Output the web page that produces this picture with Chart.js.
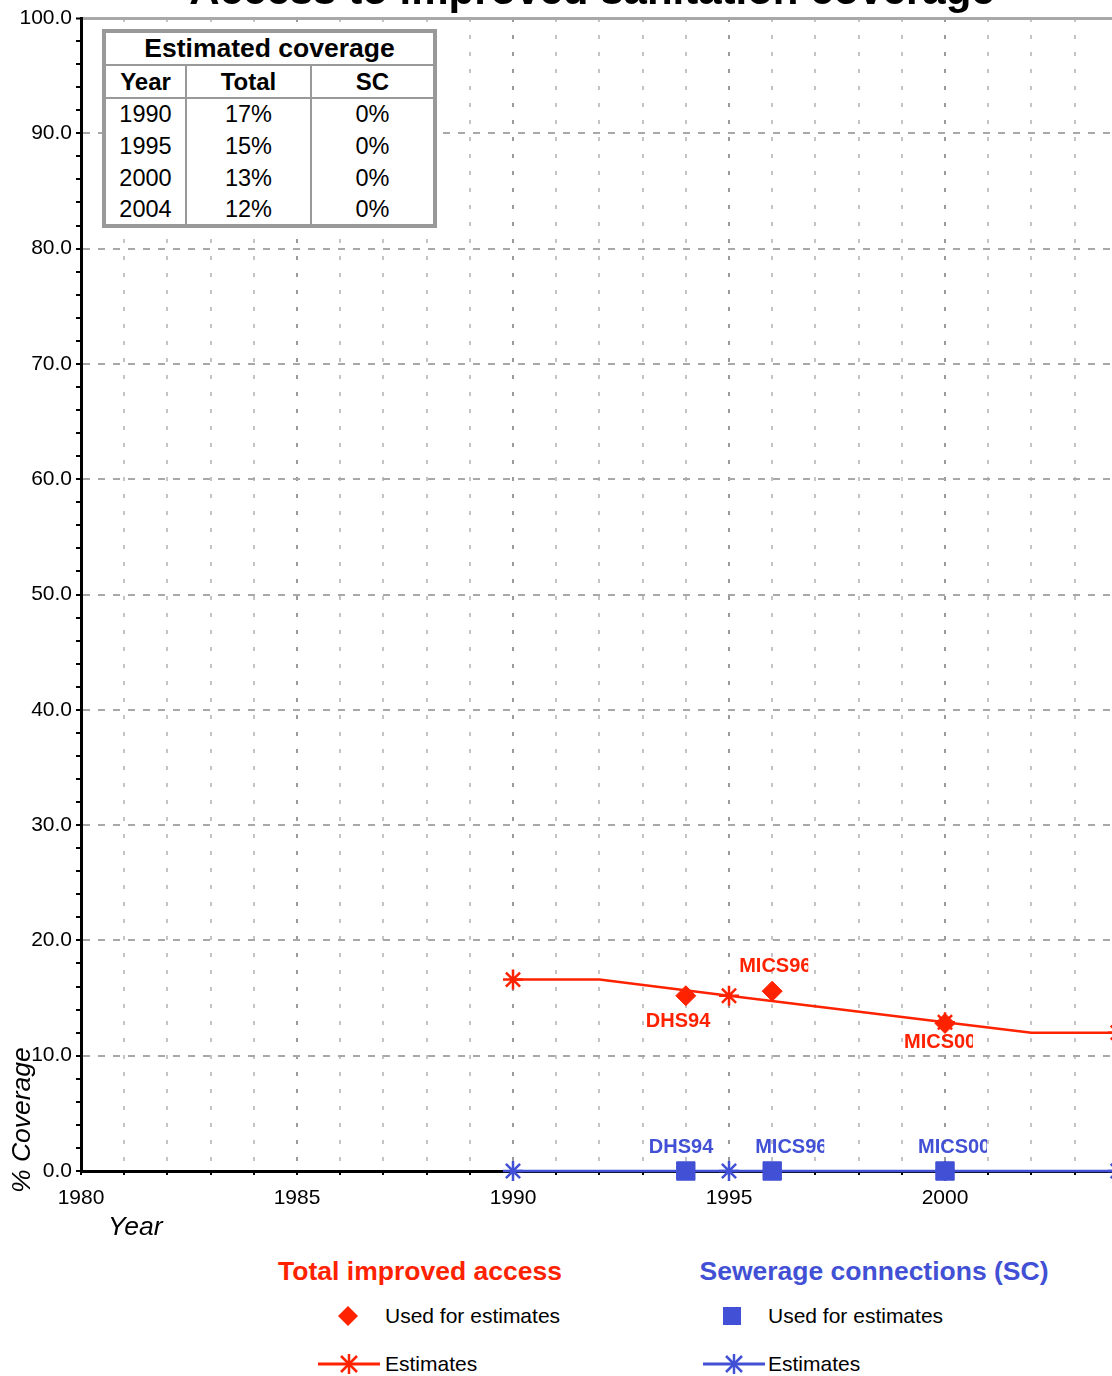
<!DOCTYPE html>
<html lang="en">
<head>
  <meta charset="UTF-8">
  <title>Access to improved sanitation coverage</title>
  <script src="https://cdn.jsdelivr.net/npm/chart.js"></script>
  <style>
    * { margin: 0; padding: 0; box-sizing: border-box; }

    body {
      width: 1112px;
      height: 1376px;
      overflow: hidden;
      position: relative;
      background: #fff;
      font-family: 'Liberation Sans', Arial, sans-serif;
      color: #000;
    }

    .chart-box {
      position: absolute;
      left: 0;
      top: 0;
      width: 1200px;
      height: 1226px;
    }

    .title {
      position: absolute;
      left: 0;
      top: -31px;
      width: 1184px;
      text-align: center;
      font-size: 42px;
      line-height: 42px;
      font-weight: bold;
      white-space: nowrap;
    }

    /* Estimated coverage table */
    .cov-table {
      position: absolute;
      left: 102px;
      top: 29px;
      width: 335px;
      border: 4px solid #999;
      border-collapse: collapse;
      background: #fff;
      text-align: center;
    }
    .cov-table th, .cov-table td { padding: 0; }
    .cov-table .cap th {
      height: 30px;
      font-size: 26.5px;
      border-bottom: 2px solid #999;
    }
    .cov-table .head th {
      height: 33px;
      font-size: 24px;
      border-bottom: 2px solid #999;
    }
    .cov-table td {
      height: 32px;
      font-size: 23.5px;
    }
    .cov-table .head th:not(:last-child),
    .cov-table td:not(:last-child) { border-right: 2px solid #999; }

    .axis-title {
      position: absolute;
      font-style: italic;
      font-size: 26.5px;
      line-height: 28px;
      white-space: nowrap;
    }
    .y-title {
      left: 7px;
      top: 1193px;
      transform-origin: 0 0;
      transform: rotate(-90deg);
    }
    .x-title { left: 108px; top: 1212px; }

    /* legend */
    .leg-head {
      position: absolute;
      font-size: 26.5px;
      line-height: 30px;
      font-weight: bold;
      white-space: nowrap;
      transform: translateX(-50%);
    }
    .leg-text {
      position: absolute;
      font-size: 21px;
      line-height: 24px;
      white-space: nowrap;
    }
    .leg-sym { position: absolute; }
  </style>
</head>
<body>
  <div class="chart-box"><canvas id="chart"></canvas></div>

  <div class="title">Access to improved sanitation coverage</div>

  <table class="cov-table" id="covTable"></table>

  <div class="axis-title y-title">% Coverage</div>
  <div class="axis-title x-title">Year</div>

  <div class="leg-head" style="left:420px; top:1256px; color:#ff2200;">Total improved access</div>
  <div class="leg-head" style="left:874px; top:1256px; color:#4150d4;">Sewerage connections (SC)</div>

  <svg class="leg-sym" style="left:336px; top:1304px;" width="24" height="24">
    <polygon points="12,2 22,12 12,22 2,12" fill="#ff2200"/>
  </svg>
  <div class="leg-text" style="left:385px; top:1304px;">Used for estimates</div>
  <svg class="leg-sym" style="left:318px; top:1352px;" width="64" height="24">
    <line x1="0" y1="12" x2="62" y2="12" stroke="#ff2200" stroke-width="3"/>
    <g stroke="#ff2200" stroke-width="2.5">
      <line x1="31" y1="2" x2="31" y2="22"/>
      <line x1="23" y1="4" x2="39" y2="20"/>
      <line x1="39" y1="4" x2="23" y2="20"/>
    </g>
  </svg>
  <div class="leg-text" style="left:385px; top:1352px;">Estimates</div>

  <svg class="leg-sym" style="left:720px; top:1304px;" width="24" height="24">
    <rect x="3" y="3" width="18" height="18" fill="#4150d4"/>
  </svg>
  <div class="leg-text" style="left:768px; top:1304px;">Used for estimates</div>
  <svg class="leg-sym" style="left:703px; top:1352px;" width="64" height="24">
    <line x1="0" y1="12" x2="62" y2="12" stroke="#4150d4" stroke-width="3"/>
    <g stroke="#4150d4" stroke-width="2.5">
      <line x1="31" y1="2" x2="31" y2="22"/>
      <line x1="23" y1="4" x2="39" y2="20"/>
      <line x1="39" y1="4" x2="23" y2="20"/>
    </g>
  </svg>
  <div class="leg-text" style="left:768px; top:1352px;">Estimates</div>

  <script>
    // ---- data ----
    const totalEstYears = [1990, 1992, 1995, 2000, 2002, 2004];
    const totalEstValues = [16.6, 16.6, 15.2, 12.9, 12.0, 12.0];
    const estMarkerYears = [1990, 1995, 2000, 2004];

    const surveyYears = [1994, 1996, 2000];
    const surveyNames = ['DHS94', 'MICS96', 'MICS00'];
    const totalSurveyValues = [15.2, 15.6, 12.8];

    const scEstYears = [1990, 1995, 2000, 2004];
    const scEstValues = [0, 0, 0, 0];
    const scSurveyValues = [0, 0, 0];

    const tableYears = ['1990', '1995', '2000', '2004'];
    const tableTotal = ['17%', '15%', '13%', '12%'];
    const tableSC = ['0%', '0%', '0%', '0%'];

    const xLabelYears = [1980, 1985, 1990, 1995, 2000];

    // ---- colours and label placement ----
    const RED = '#ff2200';
    const BLUE = '#4150d4';
    // offsets of survey labels from their marker (left edge, vertical centre)
    const redLabelOffsets = [[-40, 26], [-33, -25], [-41, 19]];
    const blueLabelOffsets = [[-37, -24], [-17, -24], [-27, -24]];

    // build the coverage table
    const table = document.getElementById('covTable');
    let html = '<tr class="cap"><th colspan="3">Estimated coverage</th></tr>';
    html += '<tr class="head"><th style="width:82px">Year</th><th style="width:125px">Total</th><th>SC</th></tr>';
    tableYears.forEach((y, i) => {
      html += `<tr><td>${y}</td><td>${tableTotal[i]}</td><td>${tableSC[i]}</td></tr>`;
    });
    table.innerHTML = html;

    const toXY = (xs, ys) => xs.map((x, i) => ({ x: x, y: ys[i] }));

    // survey labels next to the markers, cut off like in the original
    const surveyLabels = {
      id: 'surveyLabels',
      afterDatasetsDraw(chart) {
        const { ctx, scales: { x, y } } = chart;
        const sets = [
          { values: totalSurveyValues, color: RED, offsets: redLabelOffsets },
          { values: scSurveyValues, color: BLUE, offsets: blueLabelOffsets }
        ];
        ctx.save();
        ctx.font = 'bold 20px "Liberation Sans", Arial, sans-serif';
        ctx.textBaseline = 'middle';
        sets.forEach(set => {
          surveyYears.forEach((yr, i) => {
            const px = x.getPixelForValue(yr) + set.offsets[i][0];
            const py = y.getPixelForValue(set.values[i]) + set.offsets[i][1];
            ctx.save();
            ctx.beginPath();
            ctx.rect(px, py - 14, 69, 28);
            ctx.clip();
            ctx.fillStyle = set.color;
            ctx.fillText(surveyNames[i], px, py);
            ctx.restore();
          });
        });
        ctx.restore();
      }
    };

    const ctx = document.getElementById('chart').getContext('2d');
    new Chart(ctx, {
      type: 'scatter',
      data: {
        datasets: [
          {
            label: 'Total used for estimates',
            data: toXY(surveyYears, totalSurveyValues),
            pointStyle: 'rectRot',
            pointRadius: 10,
            pointBackgroundColor: RED,
            pointBorderColor: RED,
            showLine: false,
            clip: false
          },
          {
            label: 'Total estimates',
            data: toXY(totalEstYears, totalEstValues),
            showLine: true,
            borderColor: RED,
            borderWidth: 2.5,
            pointStyle: 'star',
            pointRadius: c => estMarkerYears.includes(c.raw && c.raw.x) ? 10 : 0,
            pointBorderColor: RED,
            pointBorderWidth: 2.5,
            clip: false
          },
          {
            label: 'SC estimates',
            data: toXY(scEstYears, scEstValues),
            showLine: true,
            borderColor: BLUE,
            borderWidth: 2.5,
            pointStyle: 'star',
            pointRadius: 10,
            pointBorderColor: BLUE,
            pointBorderWidth: 2.5,
            clip: false
          },
          {
            label: 'SC used for estimates',
            data: toXY(surveyYears, scSurveyValues),
            pointStyle: 'rect',
            pointRadius: 13,
            pointBackgroundColor: BLUE,
            pointBorderColor: BLUE,
            showLine: false,
            clip: false
          }
        ]
      },
      options: {
        responsive: true,
        maintainAspectRatio: false,
        animation: false,
        layout: { padding: { top: 18, right: 39, left: 0, bottom: 0 } },
        plugins: {
          legend: { display: false },
          tooltip: { enabled: false }
        },
        scales: {
          x: {
            type: 'linear',
            min: 1980,
            max: 2005,
            afterFit: s => { s.height = 55; },
            afterBuildTicks: s => {
              s.ticks = [];
              for (let v = 1980; v <= 2005; v++) s.ticks.push({ value: v });
            },
            ticks: {
              autoSkip: false,
              maxRotation: 0,
              padding: 11,
              color: '#000',
              font: { family: '"Liberation Sans", Arial, sans-serif', size: 21 },
              callback: v => xLabelYears.includes(v) ? String(v) : ''
            },
            grid: {
              color: c => (c.tick && c.tick.value % 5 === 0) ? '#9a9a9a' : '#c4c4c4',
              lineWidth: 2,
              tickLength: 4,
              tickColor: '#000',
              tickWidth: 2
            },
            border: {
              display: true,
              color: '#000',
              width: 3,
              dash: [4, 13],
              dashOffset: 0
            }
          },
          y: {
            min: 0,
            max: 100,
            afterFit: s => { s.width = 81; },
            afterBuildTicks: s => {
              s.ticks = [];
              for (let v = 0; v <= 100; v += 2) s.ticks.push({ value: v });
            },
            ticks: {
              autoSkip: false,
              padding: 4,
              color: '#000',
              font: { family: '"Liberation Sans", Arial, sans-serif', size: 21 },
              callback: v => v % 10 === 0 ? v.toFixed(1) : ''
            },
            grid: {
              color: c => {
                if (!c.tick) return '#a0a0a0';
                return c.tick.value % 10 === 0 ? '#a8a8a8' : 'rgba(0,0,0,0)';
              },
              lineWidth: c => (c.tick && c.tick.value === 100) ? 3 : 2,
              tickLength: 5,
              tickColor: '#000',
              tickWidth: 2
            },
            border: {
              display: true,
              color: '#000',
              width: 3,
              dash: c => (c.tick && c.tick.value === 100) ? [] : [7, 8]
            }
          }
        }
      },
      plugins: [surveyLabels]
    });
  </script>
</body>
</html>
